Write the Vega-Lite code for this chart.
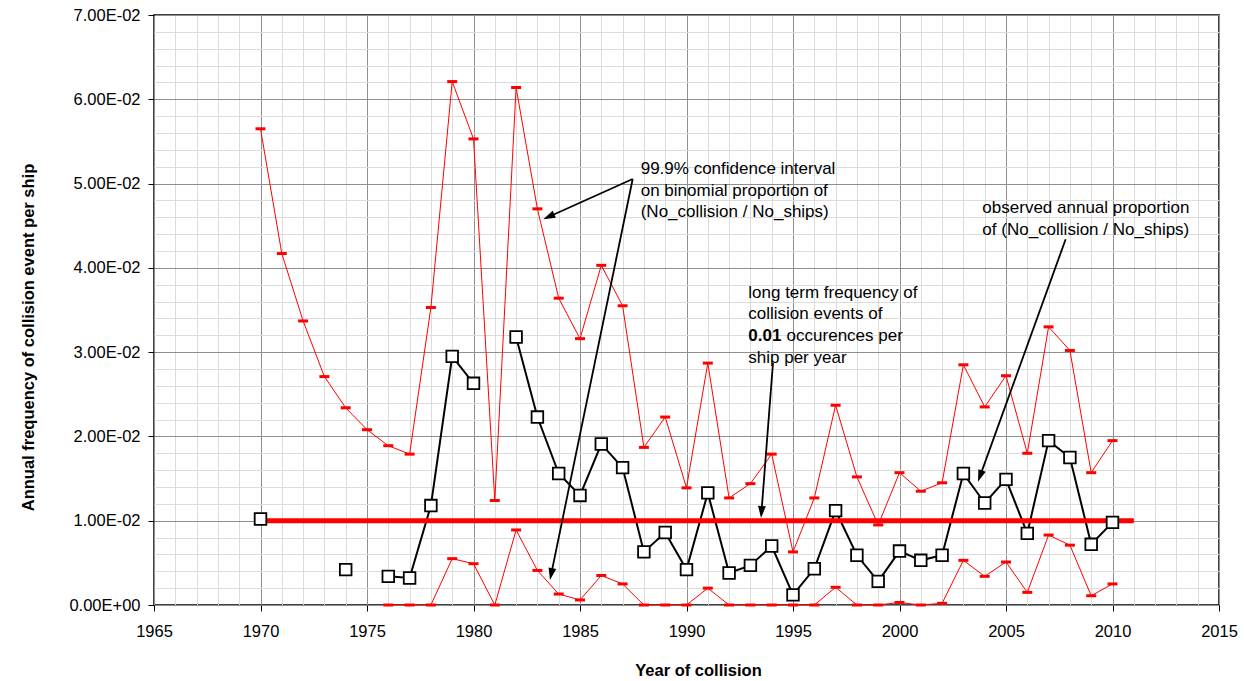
{
  "$schema": "https://vega.github.io/schema/vega-lite/v6.json",
  "width": 1065,
  "height": 590,
  "autosize": {"type": "none"},
  "padding": {"left": 154, "top": 15, "right": 25, "bottom": 76},
  "background": "white",
  "config": {
    "font": "Liberation Sans",
    "view": {"stroke": "#000", "strokeWidth": 1.5}
  },
  "datasets": {
    "series": [
      {"year": 1970, "upper": 0.0565, "lower": null, "obs": 0.0102},
      {"year": 1971, "upper": 0.0417, "lower": null, "obs": null},
      {"year": 1972, "upper": 0.0337, "lower": null, "obs": null},
      {"year": 1973, "upper": 0.0271, "lower": null, "obs": null},
      {"year": 1974, "upper": 0.0234, "lower": null, "obs": 0.0042},
      {"year": 1975, "upper": 0.0208, "lower": null, "obs": null},
      {"year": 1976, "upper": 0.0189, "lower": 0, "obs": 0.0034},
      {"year": 1977, "upper": 0.0179, "lower": 0, "obs": 0.0032},
      {"year": 1978, "upper": 0.0353, "lower": 0, "obs": 0.0118},
      {"year": 1979, "upper": 0.0621, "lower": 0.0055, "obs": 0.0295},
      {"year": 1980, "upper": 0.0553, "lower": 0.0049, "obs": 0.0263},
      {"year": 1981, "upper": 0.0124, "lower": 0, "obs": null},
      {"year": 1982, "upper": 0.0614, "lower": 0.0089, "obs": 0.0318},
      {"year": 1983, "upper": 0.0470, "lower": 0.0041, "obs": 0.0223},
      {"year": 1984, "upper": 0.0364, "lower": 0.0013, "obs": 0.0156},
      {"year": 1985, "upper": 0.0316, "lower": 0.0006, "obs": 0.0130},
      {"year": 1986, "upper": 0.0403, "lower": 0.0035, "obs": 0.0191},
      {"year": 1987, "upper": 0.0355, "lower": 0.0025, "obs": 0.0163},
      {"year": 1988, "upper": 0.0187, "lower": 0, "obs": 0.0063},
      {"year": 1989, "upper": 0.0223, "lower": 0, "obs": 0.0086},
      {"year": 1990, "upper": 0.0139, "lower": 0, "obs": 0.0042},
      {"year": 1991, "upper": 0.0287, "lower": 0.0020, "obs": 0.0133},
      {"year": 1992, "upper": 0.0127, "lower": 0, "obs": 0.0038},
      {"year": 1993, "upper": 0.0144, "lower": 0, "obs": 0.0047},
      {"year": 1994, "upper": 0.0179, "lower": 0, "obs": 0.0070},
      {"year": 1995, "upper": 0.0063, "lower": 0, "obs": 0.0012},
      {"year": 1996, "upper": 0.0127, "lower": 0, "obs": 0.0043},
      {"year": 1997, "upper": 0.0237, "lower": 0.0021, "obs": 0.0112},
      {"year": 1998, "upper": 0.0152, "lower": 0, "obs": 0.0059},
      {"year": 1999, "upper": 0.0095, "lower": 0, "obs": 0.0028},
      {"year": 2000, "upper": 0.0157, "lower": 0.0003, "obs": 0.0064},
      {"year": 2001, "upper": 0.0135, "lower": 0, "obs": 0.0053},
      {"year": 2002, "upper": 0.0145, "lower": 0.0002, "obs": 0.0059},
      {"year": 2003, "upper": 0.0285, "lower": 0.0053, "obs": 0.0156},
      {"year": 2004, "upper": 0.0235, "lower": 0.0034, "obs": 0.0121},
      {"year": 2005, "upper": 0.0272, "lower": 0.0051, "obs": 0.0149},
      {"year": 2006, "upper": 0.0180, "lower": 0.0015, "obs": 0.0085},
      {"year": 2007, "upper": 0.0330, "lower": 0.0083, "obs": 0.0195},
      {"year": 2008, "upper": 0.0302, "lower": 0.0071, "obs": 0.0175},
      {"year": 2009, "upper": 0.0157, "lower": 0.0011, "obs": 0.0072},
      {"year": 2010, "upper": 0.0195, "lower": 0.0025, "obs": 0.0098}
    ],
    "longterm": [
      {"year": 1970, "v": 0.01},
      {"year": 2011, "v": 0.01}
    ],
    "arrows": [
      {"id": "a1", "year": 1983.535, "v": 0.04606, "year2": 1987.474, "v2": 0.05054},
      {"id": "a2", "year": 1983.648, "v": 0.003666, "year2": 1987.474, "v2": 0.05054},
      {"id": "a3", "year": 1993.52, "v": 0.01103, "year2": 1994.06, "v2": 0.02871},
      {"id": "a4", "year": 2003.78, "v": 0.01529, "year2": 2007.80, "v2": 0.04339}
    ]
  },
  "encoding": {
    "x": {
      "field": "year", "type": "quantitative",
      "scale": {"domain": [1965, 2015], "nice": false, "zero": false},
      "title": "Year of collision",
      "axis": {
        "values": [1965,1966,1967,1968,1969,1970,1971,1972,1973,1974,1975,1976,1977,1978,1979,1980,1981,1982,1983,1984,1985,1986,1987,1988,1989,1990,1991,1992,1993,1994,1995,1996,1997,1998,1999,2000,2001,2002,2003,2004,2005,2006,2007,2008,2009,2010,2011,2012,2013,2014,2015],
        "labelExpr": "datum.value % 5 === 0 ? format(datum.value, 'd') : ''",
        "labelOverlap": false,
        "labelBound": false,
        "labelFlush": false,
        "labelFontSize": 16.5,
        "labelColor": "#000",
        "labelPadding": 12,
        "domain": false,
        "tickSize": 6,
        "tickColor": "#000",
        "tickOpacity": {"condition": {"test": "datum.value % 5 === 0", "value": 1}, "value": 0},
        "grid": true,
        "gridWidth": 1,
        "gridOpacity": 1,
        "gridColor": {"condition": {"test": "datum.value % 5 === 0", "value": "#8f8f8f"}, "value": "#dcdcdc"},
        "titleFontSize": 16.5,
        "titleFontWeight": "bold",
        "titleColor": "#000",
        "titleX": 544,
        "titleY": 70.8,
        "titleBaseline": "alphabetic"
      }
    },
    "y": {
      "field": "v", "type": "quantitative",
      "scale": {"domain": [0, 0.07], "nice": false},
      "title": "Annual frequency of collision event per ship",
      "axis": {
        "values": [0,0.002,0.004,0.006,0.008,0.01,0.012,0.014,0.016,0.018,0.02,0.022,0.024,0.026,0.028,0.03,0.032,0.034,0.036,0.038,0.04,0.042,0.044,0.046,0.048,0.05,0.052,0.054,0.056,0.058,0.06,0.062,0.064,0.066,0.068,0.07],
        "labelExpr": "datum.value < 1e-9 ? '0.00E+00' : (abs(datum.value*100 - round(datum.value*100)) < 1e-6 ? format(datum.value*100, '.2f') + 'E-02' : '')",
        "labelOverlap": false,
        "labelBound": false,
        "labelFlush": false,
        "labelFontSize": 16.5,
        "labelColor": "#000",
        "labelPadding": 8,
        "domain": false,
        "tickSize": 6,
        "tickColor": "#000",
        "tickOpacity": {"condition": {"test": "abs(datum.value*100 - round(datum.value*100)) < 1e-6", "value": 1}, "value": 0},
        "grid": true,
        "gridWidth": 1,
        "gridOpacity": 1,
        "gridColor": {"condition": {"test": "abs(datum.value*100 - round(datum.value*100)) < 1e-6", "value": "#8f8f8f"}, "value": "#dcdcdc"},
        "titleFontSize": 16.5,
        "titleFontWeight": "bold",
        "titleColor": "#000",
        "titleX": -120.7,
        "titleY": 322,
        "titleAngle": -90,
        "titleBaseline": "alphabetic",
        "titleAlign": "center"
      }
    }
  },
  "layer": [
    {
      "data": {"name": "series"},
      "transform": [{"fold": ["upper"], "as": ["key", "v"]}],
      "mark": {"type": "line", "color": "#ff0000", "strokeWidth": 1}
    },
    {
      "data": {"name": "series"},
      "transform": [{"fold": ["lower"], "as": ["key", "v"]}],
      "mark": {"type": "line", "color": "#ff0000", "strokeWidth": 1}
    },
    {
      "data": {"name": "series"},
      "transform": [{"fold": ["obs"], "as": ["key", "v"]}],
      "mark": {"type": "line", "color": "#000", "strokeWidth": 2, "invalid": "break-paths-show-domains"}
    },
    {
      "data": {"name": "longterm"},
      "mark": {"type": "line", "color": "#ff0000", "strokeWidth": 5, "strokeCap": "butt"}
    },
    {
      "data": {"name": "series"},
      "transform": [{"fold": ["upper", "lower"], "as": ["key", "v"]}],
      "mark": {"type": "point", "shape": "M-1,-0.3L1,-0.3L1,0.3L-1,0.3Z", "size": 100, "filled": true, "color": "#ff0000", "opacity": 1}
    },
    {
      "data": {"name": "series"},
      "transform": [{"fold": ["obs"], "as": ["key", "v"]}],
      "mark": {"type": "point", "shape": "square", "size": 135, "fill": "#ffffff", "stroke": "#000", "strokeWidth": 1.8, "opacity": 1, "fillOpacity": 1}
    },
    {
      "data": {"name": "arrows"},
      "mark": {"type": "rule", "color": "#000", "strokeWidth": 1.8},
      "encoding": {
        "x2": {"field": "year2"},
        "y2": {"field": "v2"}
      }
    },
    {
      "data": {"name": "arrows"},
      "mark": {"type": "point", "shape": "M0,-1L0.65,1L-0.65,1Z", "size": 144, "filled": true, "color": "#000", "opacity": 1},
      "encoding": {
        "angle": {
          "condition": [
            {"test": "datum.id === 'a1'", "value": 245.7},
            {"test": "datum.id === 'a2'", "value": 191.7},
            {"test": "datum.id === 'a3'", "value": 184.4}
          ],
          "value": 199.9
        }
      }
    },
    {
      "data": {"values": [
        {"year": 1987.85, "v": 0.05114, "t": ["99.9% confidence interval", "on binomial proportion of", "(No_collision / No_ships)"]},
        {"year": 1992.90, "v": 0.03646, "t": ["long term frequency of", "collision events of"]},
        {"year": 1994.70, "v": 0.03131, "t": "occurences per"},
        {"year": 1992.90, "v": 0.02874, "t": "ship per year"},
        {"year": 2003.89, "v": 0.04647, "t": ["observed annual proportion", "of (No_collision / No_ships)"]}
      ]},
      "mark": {"type": "text", "align": "left", "baseline": "alphabetic", "fontSize": 17, "lineHeight": 21.7, "color": "#000"},
      "encoding": {
        "text": {"field": "t"}
      }
    },
    {
      "data": {"values": [
        {"year": 1992.90, "v": 0.03131, "t": "0.01"}
      ]},
      "mark": {"type": "text", "align": "left", "baseline": "alphabetic", "fontSize": 17, "fontWeight": "bold", "color": "#000"},
      "encoding": {
        "text": {"field": "t"}
      }
    }
  ]
}
